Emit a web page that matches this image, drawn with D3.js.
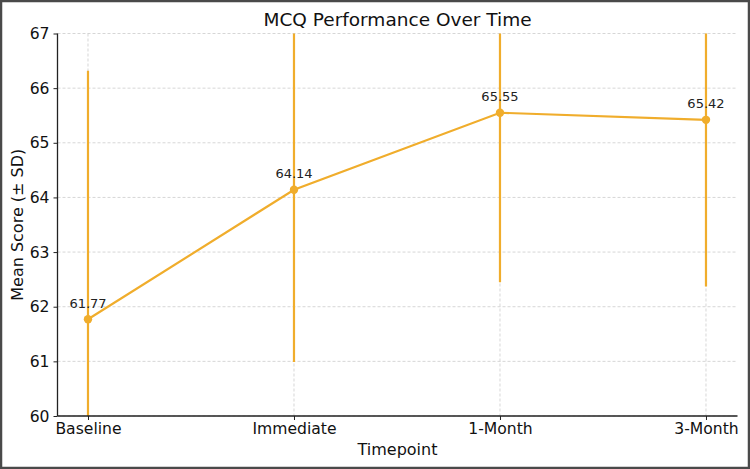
<!DOCTYPE html>
<html><head><meta charset="utf-8">
<script src="https://cdn.jsdelivr.net/npm/d3@7"></script>
<style>body{margin:0;background:#fff}svg{display:block}text{font-family:"DejaVu Sans",sans-serif}</style>
</head><body>
<svg id="c" width="750" height="469"></svg>
<script>
const categories = ["Baseline", "Immediate", "1-Month", "3-Month"];
const means = [61.77, 64.14, 65.55, 65.42];
const sds = [4.55, 3.15, 3.10, 3.05];
const yTicks = [60, 61, 62, 63, 64, 65, 66, 67];
const color = "#F0AD2C";

const svg = d3.select("#c");
const W = 750, H = 469;
const m = {l: 57.5, r: 12.5, t: 33.5, b: 53};
svg.append("rect").attr("x",1).attr("y",1).attr("width",W-2).attr("height",H-2)
  .attr("fill","#fff").attr("stroke","#4a4a4a").attr("stroke-width",2.5);

const x = d3.scaleLinear().domain([-0.148, categories.length - 1 + 0.153]).range([m.l, W - m.r]);
const y = d3.scaleLinear().domain([60, 67]).range([H - m.b, m.t]);

const g = svg.append("g");
g.selectAll(".gy").data(yTicks).join("line")
  .attr("x1", m.l).attr("x2", W - m.r).attr("y1", d => y(d)).attr("y2", d => y(d))
  .attr("stroke", "#cccccc").attr("stroke-width", 0.8).attr("stroke-dasharray", "3,2");
g.selectAll(".gx").data(categories).join("line")
  .attr("x1", (d,i) => x(i)).attr("x2", (d,i) => x(i)).attr("y1", m.t).attr("y2", H - m.b)
  .attr("stroke", "#cccccc").attr("stroke-width", 0.8).attr("stroke-dasharray", "3,2");

svg.append("clipPath").attr("id","pc").append("rect")
  .attr("x", m.l).attr("y", m.t).attr("width", W - m.r - m.l).attr("height", H - m.b - m.t);
const p = svg.append("g").attr("clip-path","url(#pc)");
p.selectAll(".eb").data(means).join("line")
  .attr("x1", (d,i) => x(i)).attr("x2", (d,i) => x(i))
  .attr("y1", (d,i) => y(d - sds[i])).attr("y2", (d,i) => y(d + sds[i]))
  .attr("stroke", color).attr("stroke-width", 2.2);
p.append("path").datum(means)
  .attr("d", d3.line().x((d,i) => x(i)).y(d => y(d)))
  .attr("fill","none").attr("stroke", color).attr("stroke-width", 2.2);
svg.selectAll(".pt").data(means).join("circle")
  .attr("cx", (d,i) => x(i)).attr("cy", d => y(d)).attr("r", 4.2).attr("fill", color);
svg.selectAll(".lbl").data(means).join("text")
  .attr("x", (d,i) => x(i)).attr("y", d => y(d) - 11.5).attr("text-anchor","middle")
  .attr("font-size", 13).attr("fill","#222").text(d => d.toFixed(2));

const ya = svg.append("g").attr("transform", `translate(${m.l},0)`)
  .call(d3.axisLeft(y).tickValues(yTicks).tickSize(4).tickPadding(4).tickFormat(d3.format("d")));
const xa = svg.append("g").attr("transform", `translate(0,${H - m.b})`)
  .call(d3.axisBottom(x).tickValues(d3.range(categories.length)).tickSize(4).tickPadding(3).tickFormat(i => categories[i]));
[ya, xa].forEach(a => {
  a.select(".domain").attr("stroke","#222").attr("stroke-width",1.3);
  a.selectAll(".tick line").attr("stroke","#222");
  a.selectAll("text").attr("font-size",15.6).attr("fill","#111").style("font-family",'"DejaVu Sans",sans-serif');
});
ya.select(".domain").attr("d", `M0,${y(67)}V${y(60)}`);
xa.select(".domain").attr("d", `M${m.l},0H${W - m.r}`);

svg.append("text").attr("x", (m.l + W - m.r)/2).attr("y", 26).attr("text-anchor","middle")
  .attr("font-size", 18.5).attr("fill","#111").text("MCQ Performance Over Time");
svg.append("text").attr("x", (m.l + W - m.r)/2).attr("y", 455).attr("text-anchor","middle")
  .attr("font-size", 16).attr("fill","#111").text("Timepoint");
svg.append("text").attr("transform", `translate(23,${(m.t + H - m.b)/2}) rotate(-90)`).attr("text-anchor","middle")
  .attr("font-size", 16).attr("fill","#111").text("Mean Score (± SD)");
</script>
</body></html>
